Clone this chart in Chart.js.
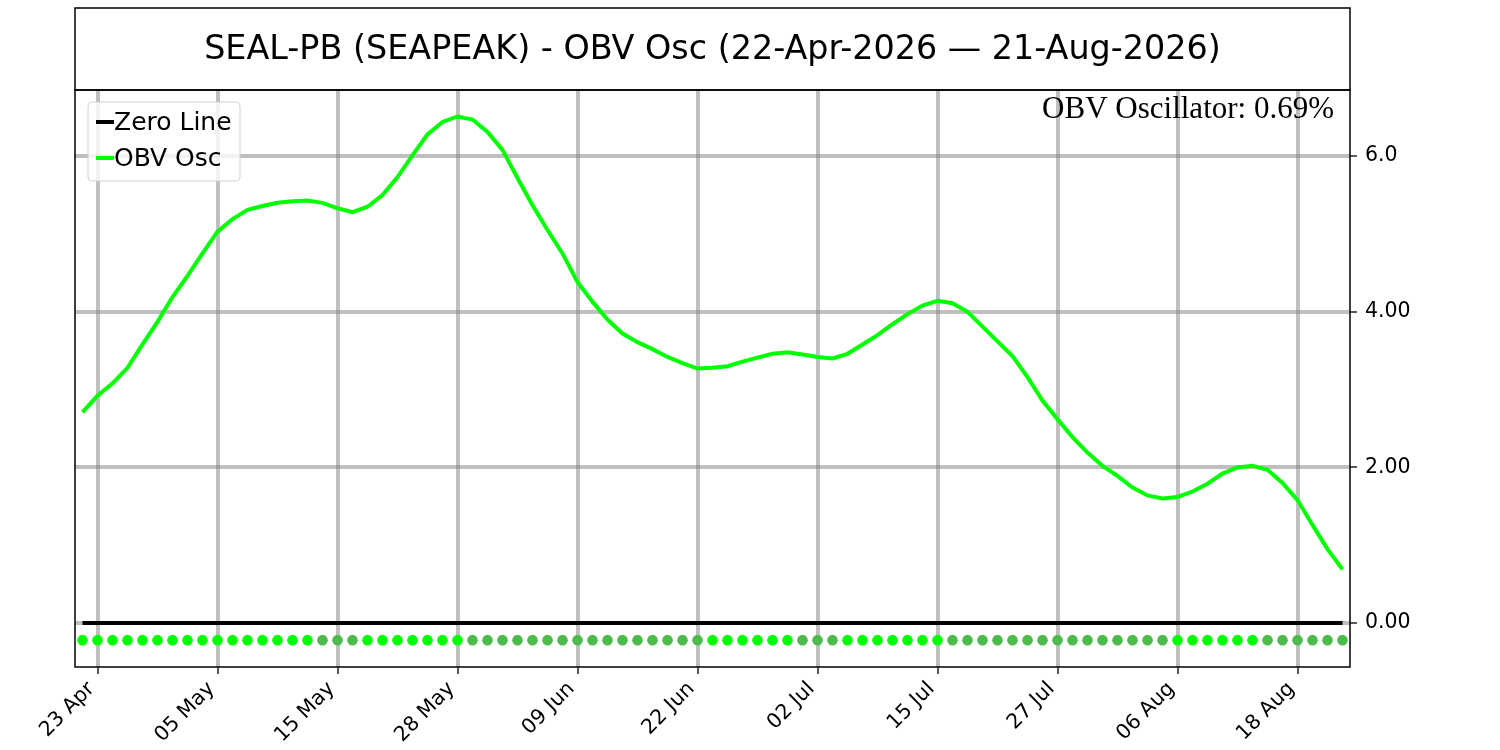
<!DOCTYPE html>
<html>
<head>
<meta charset="utf-8">
<script src="https://cdn.jsdelivr.net/npm/chart.js@4.4.1/dist/chart.umd.min.js"></script>
<style>
  html, body { margin: 0; padding: 0; background: #fff; }
  canvas { display: block; }
</style>
</head>
<body>
<canvas id="chart_obv" width="1500" height="750"></canvas>
<script>
// trading days 22 Apr -> 21 Aug 2026
const dates = [
  '22 Apr','23 Apr','24 Apr','27 Apr','28 Apr','29 Apr','30 Apr',
  '01 May','04 May','05 May','06 May','07 May','08 May','11 May','12 May','13 May','14 May','15 May',
  '18 May','19 May','20 May','21 May','22 May','26 May','27 May','28 May','29 May',
  '01 Jun','02 Jun','03 Jun','04 Jun','05 Jun','08 Jun','09 Jun','10 Jun','11 Jun','12 Jun',
  '15 Jun','16 Jun','17 Jun','18 Jun','22 Jun','23 Jun','24 Jun','25 Jun','26 Jun','29 Jun','30 Jun',
  '01 Jul','02 Jul','06 Jul','07 Jul','08 Jul','09 Jul','10 Jul','13 Jul','14 Jul','15 Jul','16 Jul','17 Jul',
  '20 Jul','21 Jul','22 Jul','23 Jul','24 Jul','27 Jul','28 Jul','29 Jul','30 Jul','31 Jul',
  '03 Aug','04 Aug','05 Aug','06 Aug','07 Aug','10 Aug','11 Aug','12 Aug','13 Aug','14 Aug',
  '17 Aug','18 Aug','19 Aug','20 Aug','21 Aug'
];
const tickLabels = ['23 Apr','05 May','15 May','28 May','09 Jun','22 Jun','02 Jul','15 Jul','27 Jul','06 Aug','18 Aug'];

const obvOsc = [
  2.71, 2.92, 3.08, 3.28, 3.58, 3.87, 4.19, 4.46, 4.75, 5.03,
  5.19, 5.31, 5.36, 5.40, 5.42, 5.43, 5.40, 5.33, 5.28, 5.35,
  5.50, 5.73, 6.01, 6.28, 6.44, 6.51, 6.47, 6.31, 6.08, 5.72,
  5.37, 5.05, 4.75, 4.38, 4.13, 3.90, 3.72, 3.61, 3.52, 3.42,
  3.34, 3.27, 3.28, 3.30, 3.36, 3.41, 3.46, 3.48, 3.45, 3.42,
  3.40, 3.46, 3.58, 3.70, 3.84, 3.97, 4.08, 4.14, 4.11, 4.00,
  3.81, 3.62, 3.43, 3.16, 2.86, 2.62, 2.39, 2.19, 2.02, 1.89,
  1.74, 1.64, 1.60, 1.62, 1.69, 1.79, 1.92, 2.00, 2.02, 1.97,
  1.80, 1.58, 1.26, 0.95, 0.69
];

const yTickValues = [0, 2, 4, 6];
const yTickLabels = ['0.00', '2.00', '4.00', '6.0'];

const titleText = 'SEAL-PB (SEAPEAK) - OBV Osc (22-Apr-2026 \u2014 21-Aug-2026)';
const lastValueText = 'OBV Oscillator: 0.69%';
const legendNames = ['Zero Line', 'OBV Osc'];
const dotLevel = -0.22;

const upColor = '#00ff00';
const downColor = '#4cbb4c';
const gridColor = 'rgba(128,128,128,0.5)';

// dot is bright when the oscillator rose vs the previous day
const dotColors = obvOsc.map((v, i) => (i === 0 || v >= obvOsc[i - 1]) ? upColor : downColor);

const decorations = {
  id: 'decorations',
  afterDraw(chart) {
    const c = chart.ctx;
    const a = chart.chartArea;
    c.save();

    // title box
    c.strokeStyle = '#000';
    c.lineWidth = 1.5;
    c.strokeRect(a.left, 8, a.right - a.left, a.top - 8);
    c.fillStyle = '#000';
    c.font = '33.4px "DejaVu Sans"';
    c.textAlign = 'center';
    c.textBaseline = 'middle';
    c.fillText(titleText, (a.left + a.right) / 2, 50);

    // plot frame
    c.strokeRect(a.left, a.top, a.right - a.left, a.bottom - a.top);

    // last value note
    c.font = '31px "Liberation Serif"';
    c.textAlign = 'right';
    c.textBaseline = 'alphabetic';
    c.fillText(lastValueText, a.right - 16, 118);

    // legend
    c.beginPath();
    c.roundRect(88, 102, 152, 79, 4);
    c.fillStyle = 'rgba(255,255,255,0.8)';
    c.fill();
    c.strokeStyle = '#d0d0d0';
    c.lineWidth = 1;
    c.stroke();

    const rows = [[legendNames[0], '#000', 122], [legendNames[1], upColor, 158]];
    c.font = '25px "DejaVu Sans"';
    c.textAlign = 'left';
    c.textBaseline = 'middle';
    rows.forEach(([name, col, y]) => {
      c.strokeStyle = col;
      c.lineWidth = 4;
      c.beginPath();
      c.moveTo(96, y);
      c.lineTo(114, y);
      c.stroke();
      c.fillStyle = '#000';
      c.fillText(name, 114, y + 1);
    });

    c.restore();
  }
};

const ctx = document.getElementById('chart_obv');

let chartLine = new Chart(ctx, {
  type: 'line',
  data: {
    labels: dates,
    datasets: [
      {
        label: legendNames[1],
        data: obvOsc,
        borderColor: upColor,
        borderWidth: 4,
        pointRadius: 0,
        tension: 0,
        fill: false,
        order: 0
      },
      {
        label: legendNames[0],
        data: dates.map(() => 0),
        borderColor: '#000',
        borderWidth: 4,
        pointRadius: 0,
        fill: false,
        order: 1
      },
      {
        label: 'trend',
        data: dates.map(() => dotLevel),
        showLine: false,
        pointRadius: 5.3,
        pointBorderWidth: 0,
        pointBackgroundColor: dotColors,
        order: 2
      }
    ]
  },
  options: {
    responsive: false,
    animation: false,
    devicePixelRatio: 1,
    layout: { padding: { left: 75, top: 90, right: 0, bottom: 0 } },
    plugins: {
      legend: { display: false },
      title: { display: false },
      tooltip: { enabled: false }
    },
    scales: {
      x: {
        type: 'category',
        offset: true,
        afterBuildTicks: (axis) => {
          axis.ticks = tickLabels.map((l) => ({ value: dates.indexOf(l) }));
        },
        afterFit: (axis) => { axis.height = 83; },
        grid: {
          offset: false,
          color: gridColor,
          lineWidth: 4,
          tickColor: '#000',
          tickWidth: 1.3,
          tickLength: 7
        },
        border: { display: false },
        ticks: {
          autoSkip: false,
          minRotation: 45,
          maxRotation: 45,
          padding: 3,
          labelOffset: -6,
          color: '#000',
          font: { family: 'DejaVu Sans', size: 20.5 },
          callback: (value) => dates[value]
        }
      },
      y: {
        position: 'right',
        min: -0.565,
        max: 6.85,
        afterBuildTicks: (axis) => {
          axis.ticks = yTickValues.map((v) => ({ value: v }));
        },
        afterFit: (axis) => { axis.width = 150; },
        grid: {
          color: gridColor,
          lineWidth: 4,
          tickColor: '#000',
          tickWidth: 1.3,
          tickLength: 7
        },
        border: { display: false },
        ticks: {
          padding: 8,
          color: '#000',
          font: { family: 'DejaVu Sans', size: 20.5 },
          callback: (value) => yTickLabels[yTickValues.indexOf(value)]
        }
      }
    }
  },
  plugins: [decorations]
});
</script>
</body>
</html>
